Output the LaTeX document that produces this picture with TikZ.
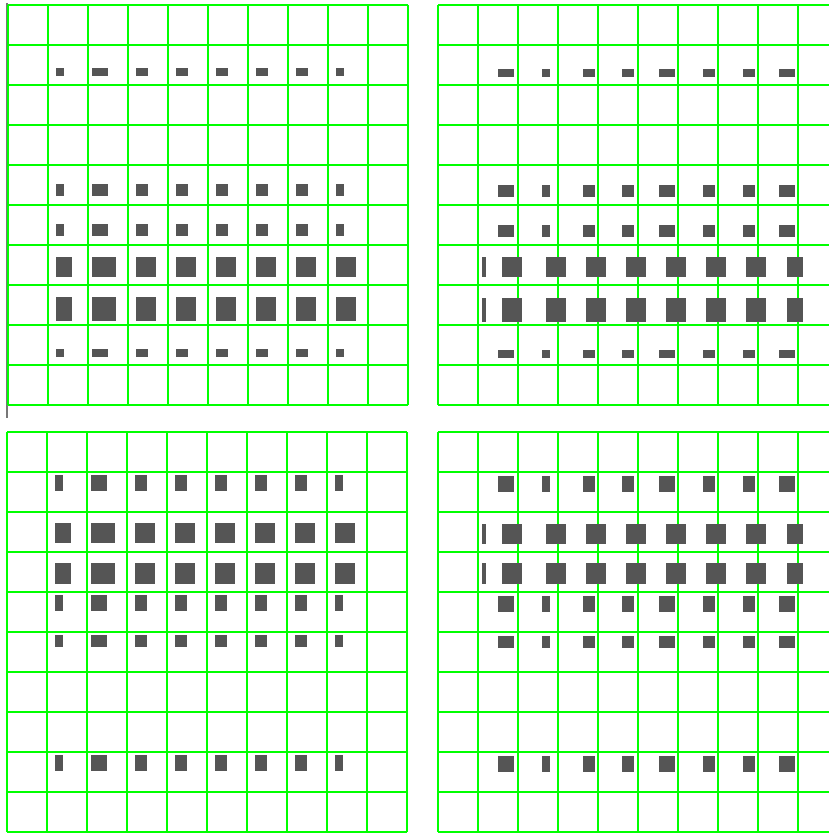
\documentclass[tikz,border=0pt]{standalone}
\usetikzlibrary{positioning}
\definecolor{Lime}{HTML}{00FF00}
\definecolor{Ink}{HTML}{555555}
\definecolor{Rule}{HTML}{777777}

\begin{document}
\begin{tikzpicture}[x=1pt,y=-1pt,
    gridline/.style={draw=Lime,line width=1.8pt},
    block/.style={fill=Ink}]
  \useasboundingbox (0,0) rectangle (829,833);
  \clip (0,0) rectangle (829,833);
  % rule on the left of the first panel
  \draw[Rule,line width=2pt] (7,3)--(7,418);
  % the four grids
  \foreach \ox/\oy in {8/5,438/5,7/432,438/432}{
    \foreach \i in {0,...,10}{
      \draw[gridline] (\ox,\oy+40*\i)--(\ox+400,\oy+40*\i);
      \draw[gridline] (\ox+40*\i,\oy)--(\ox+40*\i,\oy+400);
    }
  }
  % top left
  \foreach \y/\h in {68/8,184/12,224/12,349/8}
    \foreach \a/\b in {56/64,92/108,136/148,176/188,216/228,256/268,296/308,336/344}
      \fill[block] (\a,\y) rectangle (\b,\y+\h);
  \foreach \y/\h in {257/20,297/24}
    \foreach \a/\b in {56/72,92/116,136/156,176/196,216/236,256/276,296/316,336/356}
      \fill[block] (\a,\y) rectangle (\b,\y+\h);
  % bottom left
  \begin{scope}[xshift=-1pt]
  \foreach \y/\h in {475/16,595/16,635/12,755/16}
    \foreach \a/\b in {56/64,92/108,136/148,176/188,216/228,256/268,296/308,336/344}
      \fill[block] (\a,\y) rectangle (\b,\y+\h);
  \foreach \y/\h in {523/20,563/21}
    \foreach \a/\b in {56/72,92/116,136/156,176/196,216/236,256/276,296/316,336/356}
      \fill[block] (\a,\y) rectangle (\b,\y+\h);
  \end{scope}
  % top right
  \foreach \y/\h in {69/8,185/12,225/12,350/8}
    \foreach \a/\b in {498/514,542/550,583/595,622/634,659/675,703/715,743/755,779/795}
      \fill[block] (\a,\y) rectangle (\b,\y+\h);
  \foreach \y/\h in {257/20,297.5/24}
    \foreach \a/\b in {482/486,502/522,546/566,586/606,626/646,666/686,706/726,746/766,787/803}
      \fill[block] (\a,\y) rectangle (\b,\y+\h);
  % bottom right
  \foreach \y/\h in {476/16,596/16,636/12,756/16}
    \foreach \a/\b in {498/514,542/550,583/595,622/634,659/675,703/715,743/755,779/795}
      \fill[block] (\a,\y) rectangle (\b,\y+\h);
  \foreach \y/\h in {524/20,563/21}
    \foreach \a/\b in {482/486,502/522,546/566,586/606,626/646,666/686,706/726,746/766,787/803}
      \fill[block] (\a,\y) rectangle (\b,\y+\h);
\end{tikzpicture}
\end{document}
